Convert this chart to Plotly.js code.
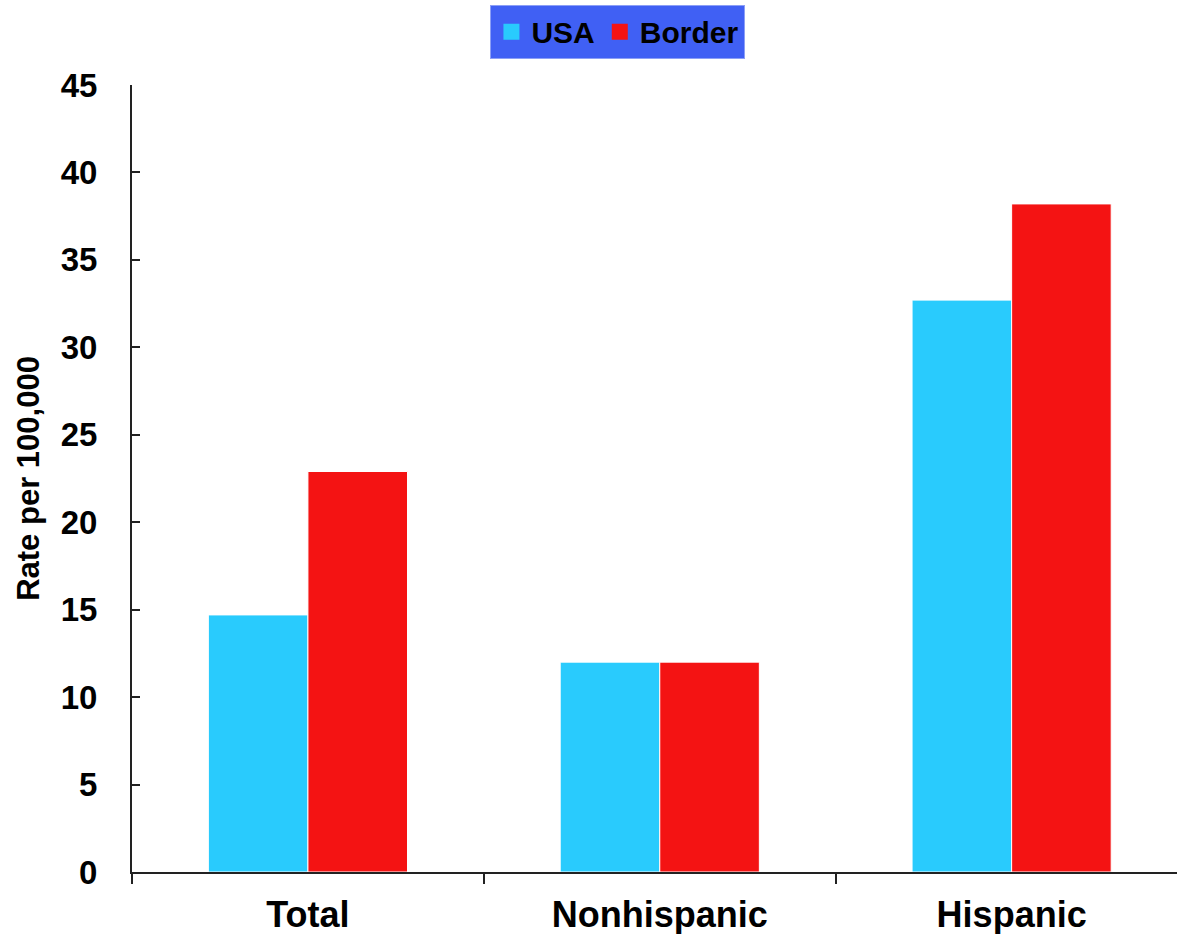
<!DOCTYPE html>
<html>
<head>
<meta charset="utf-8">
<script src="https://cdn.plot.ly/plotly-3.0.1.min.js"></script>
<style>html,body{margin:0;padding:0;background:#fff;}#chart{width:1177px;height:934px;}</style>
</head>
<body>
<div id="chart"></div>
<script>
const categories = ["Total", "Nonhispanic", "Hispanic"];
const usaValues = [14.7, 12.0, 32.7];
const borderValues = [22.9, 12.0, 38.2];
const seriesNames = ["USA", "Border"];
const seriesColors = ["#29cbfd", "#f41313"];
const yTicks = [0, 5, 10, 15, 20, 25, 30, 35, 40, 45];

const FONT = "Liberation Sans, Arial, sans-serif";

const traces = [
  {type: "bar", name: seriesNames[0], x: categories, y: usaValues, showlegend: false, legendgroup: "usa",
   marker: {color: seriesColors[0], line: {color: "#ffffff", width: 1}}},
  {type: "bar", name: seriesNames[1], x: categories, y: borderValues, showlegend: false, legendgroup: "border",
   marker: {color: seriesColors[1], line: {color: "#ffffff", width: 1}}},
  // legend entries (larger square swatches, as in the reference)
  {type: "scatter", mode: "markers", name: seriesNames[0], x: [null], y: [null], legendgroup: "usa",
   marker: {symbol: "square", size: 20, color: seriesColors[0]}},
  {type: "scatter", mode: "markers", name: seriesNames[1], x: [null], y: [null], legendgroup: "border",
   marker: {symbol: "square", size: 20, color: seriesColors[1]}}
];

const layout = {
  width: 1177, height: 934,
  margin: {l: 132, r: 0, t: 85, b: 62},
  paper_bgcolor: "#ffffff", plot_bgcolor: "#ffffff",
  font: {family: FONT, color: "#000000"},
  barmode: "group",
  bargap: 0.434,
  bargroupgap: 0,
  showlegend: true,
  legend: {
    orientation: "h", x: 0.343, xanchor: "left", y: 1.102, yanchor: "top",
    bgcolor: "#4060f4", bordercolor: "#8c9ff6", borderwidth: 1,
    font: {family: FONT, size: 30, color: "#000000", weight: "bold"},
    itemwidth: 30, traceorder: "normal", itemsizing: "trace"
  },
  xaxis: {
    type: "category", range: [-0.5, 2.47],
    showline: true, linecolor: "#222222", linewidth: 2,
    ticks: "outside", tickson: "boundaries", ticklen: 10, tickwidth: 2, tickcolor: "#222222",
    showgrid: false, zeroline: false,
    tickfont: {family: FONT, size: 36, color: "#000000", weight: "bold"},
    ticklabelstandoff: 10
  },
  yaxis: {
    range: [0, 45], tickvals: yTicks,
    showline: true, linecolor: "#222222", linewidth: 2,
    ticks: "inside", ticklen: 8, tickwidth: 2, tickcolor: "#222222",
    showgrid: false, zeroline: false,
    tickfont: {family: FONT, size: 33, color: "#000000", weight: "bold"},
    ticklabelstandoff: 26,
    title: {text: "Rate per 100,000", font: {family: FONT, size: 31, color: "#000000", weight: "bold"}, standoff: 12}
  }
};

Plotly.newPlot("chart", traces, layout, {displayModeBar: false, staticPlot: true});
</script>
</body>
</html>
